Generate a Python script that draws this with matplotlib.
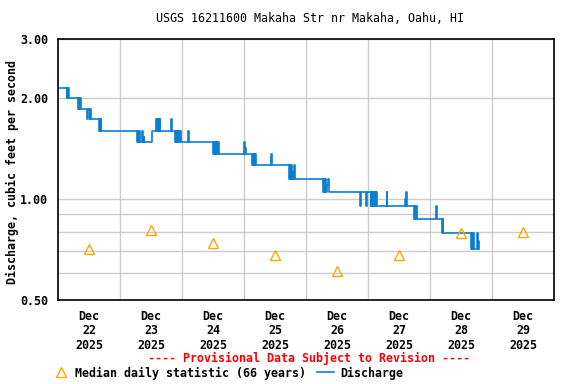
import matplotlib
matplotlib.use('Agg')
import matplotlib.pyplot as plt
from matplotlib.lines import Line2D
from matplotlib.ticker import NullFormatter

# discharge, hours since Dec 22 00:00 (15-min gage, step values)
hours = [0.0, 3.4, 3.6, 3.8, 4.0, 4.3,
         7.9, 8.1, 8.3, 8.5, 8.8,
         11.3, 11.7, 12.2, 12.5, 12.75,
         16.0, 16.2, 16.4, 16.5, 16.6,
         30.6, 30.85, 31.1, 31.35, 31.7, 32.6, 32.85, 33.1, 33.35,
         36.3, 37.9, 38.15, 38.4, 38.65, 38.9, 39.15, 39.4, 39.6,
         43.7, 43.95,
         45.3, 45.55, 45.8, 46.05, 46.3, 46.55, 46.8,
         47.2, 47.45, 50.4, 50.65,
         60.1, 60.35, 60.6, 60.85, 61.1, 61.35, 61.6, 61.85, 62.1, 62.35,
         72.1, 72.35, 72.5, 72.75,
         75.1, 75.35, 75.6, 75.85, 76.1, 76.4, 76.65,
         82.6, 82.85,
         89.4, 89.65, 89.9, 90.15, 90.4, 90.6, 90.85, 91.4, 91.65,
         102.7, 102.95, 103.2, 103.45, 103.7, 103.95, 104.6, 104.85,
         116.9, 117.15, 119.2, 119.45,
         121.0, 121.25, 121.5, 121.75, 122.0, 122.25, 122.5, 122.75, 123.0, 123.2, 123.4,
         127.2, 127.45, 134.4, 134.65, 134.9, 135.15,
         137.8, 138.05, 138.3, 138.55, 138.9,
         146.3, 146.55,
         148.8, 149.0, 149.2,
         159.9, 160.15, 160.4, 160.65, 160.9,
         162.2, 162.45, 162.7, 162.95, 163.0]
flow = [2.14, 2.00, 2.14, 2.00, 2.14, 2.00,
        1.85, 2.00, 1.85, 2.00, 1.85,
        1.73, 1.85, 1.73, 1.85, 1.73,
        1.59, 1.73, 1.59, 1.73, 1.59,
        1.48, 1.59, 1.48, 1.59, 1.48, 1.59, 1.48, 1.53, 1.48,
        1.59, 1.73, 1.59, 1.73, 1.59, 1.73, 1.59, 1.73, 1.59,
        1.73, 1.59,
        1.48, 1.59, 1.48, 1.59, 1.48, 1.59, 1.48,
        1.60, 1.48, 1.60, 1.48,
        1.36, 1.48, 1.36, 1.48, 1.36, 1.48, 1.36, 1.48, 1.48, 1.36,
        1.48, 1.36, 1.42, 1.36,
        1.26, 1.36, 1.26, 1.36, 1.26, 1.36, 1.26,
        1.36, 1.26,
        1.15, 1.26, 1.15, 1.26, 1.15, 1.20, 1.15, 1.26, 1.15,
        1.05, 1.15, 1.05, 1.15, 1.05, 1.10, 1.15, 1.05,
        0.955, 1.05, 0.955, 1.05,
        0.955, 1.05, 0.955, 1.05, 0.955, 1.05, 0.955, 1.05, 0.955, 1.05, 0.955,
        1.05, 0.955, 1.00, 0.955, 1.05, 0.955,
        0.87, 0.955, 0.87, 0.955, 0.87,
        0.955, 0.87,
        0.79, 0.87, 0.79,
        0.71, 0.79, 0.71, 0.79, 0.71,
        0.79, 0.71, 0.75, 0.71, 0.71]

# median daily statistic at noon of each day
median_hours = [12, 36, 60, 84, 108, 132, 156, 180]
median_flow = [0.71, 0.81, 0.74, 0.68, 0.61, 0.68, 0.79, 0.80]

day_labels = ['Dec\n22\n2025', 'Dec\n23\n2025', 'Dec\n24\n2025', 'Dec\n25\n2025',
              'Dec\n26\n2025', 'Dec\n27\n2025', 'Dec\n28\n2025', 'Dec\n29\n2025']
y_ticks = [0.5, 1.0, 2.0, 3.0]
y_labels = ['0.50', '1.00', '2.00', '3.00']

mono = 'DejaVu Sans Mono'
fs = 8.4
blue = '#0a7fd0'
orange = '#FFA500'

fig = plt.figure(figsize=(5.76, 3.84), dpi=100)
ax = fig.add_axes([58/576, 1 - 300/384, 496/576, 261/384])

ax.plot(hours, flow, drawstyle='steps-post', color=blue, lw=1.2)
ax.plot(median_hours, median_flow, ls='none', marker='^', ms=7,
        mfc='none', mec=orange, mew=1.0)

ax.set_yscale('log')
ax.set_ylim(0.5, 3.0)
ax.set_xlim(0, 192)
ax.set_yticks(y_ticks)
ax.set_yticklabels(y_labels)
ax.set_yticks([0.6, 0.7, 0.8, 0.9], minor=True)
ax.yaxis.set_minor_formatter(NullFormatter())
ax.set_xticks(median_hours)
ax.set_xticklabels(day_labels, linespacing=1.15)
ax.set_xticks(range(24, 192, 24), minor=True)

ax.grid(which='minor', axis='x', color='#cccccc', lw=1.0)
ax.grid(which='both', axis='y', color='#cccccc', lw=1.0)
ax.set_axisbelow(True)
ax.tick_params(which='both', length=0)
ax.tick_params(axis='y', pad=7)
ax.tick_params(axis='x', pad=7)
for lab in ax.get_xticklabels() + ax.get_yticklabels():
    lab.set_family(mono)
    lab.set_weight('bold')
    lab.set_size(fs)
for s in ax.spines.values():
    s.set_linewidth(1.2)

fig.text(310/576, 1 - 19/384, 'USGS 16211600 Makaha Str nr Makaha, Oahu, HI',
         ha='center', va='center', family=mono, size=fs)
fig.text(12/576, 1 - 172/384, 'Discharge, cubic feet per second', rotation=90,
         ha='center', va='center', family=mono, weight='bold', size=fs)
fig.text(309/576, 1 - 358/384, '---- Provisional Data Subject to Revision ----',
         ha='center', va='center', family=mono, weight='bold', size=fs, color='red')

handles = [Line2D([], [], ls='none', marker='^', ms=7, mfc='none', mec=orange, mew=1.0),
           Line2D([], [], color=blue, lw=1.2)]
fig.legend(handles, ['Median daily statistic (66 years)', 'Discharge'],
           loc='center left', bbox_to_anchor=(52/576, 1 - 373/384), ncol=2,
           frameon=False, handlelength=1.5, handletextpad=0.5, columnspacing=0.9,
           borderaxespad=0, borderpad=0,
           prop={'family': mono, 'weight': 'bold', 'size': fs})

fig.savefig('out.png', dpi=100)
